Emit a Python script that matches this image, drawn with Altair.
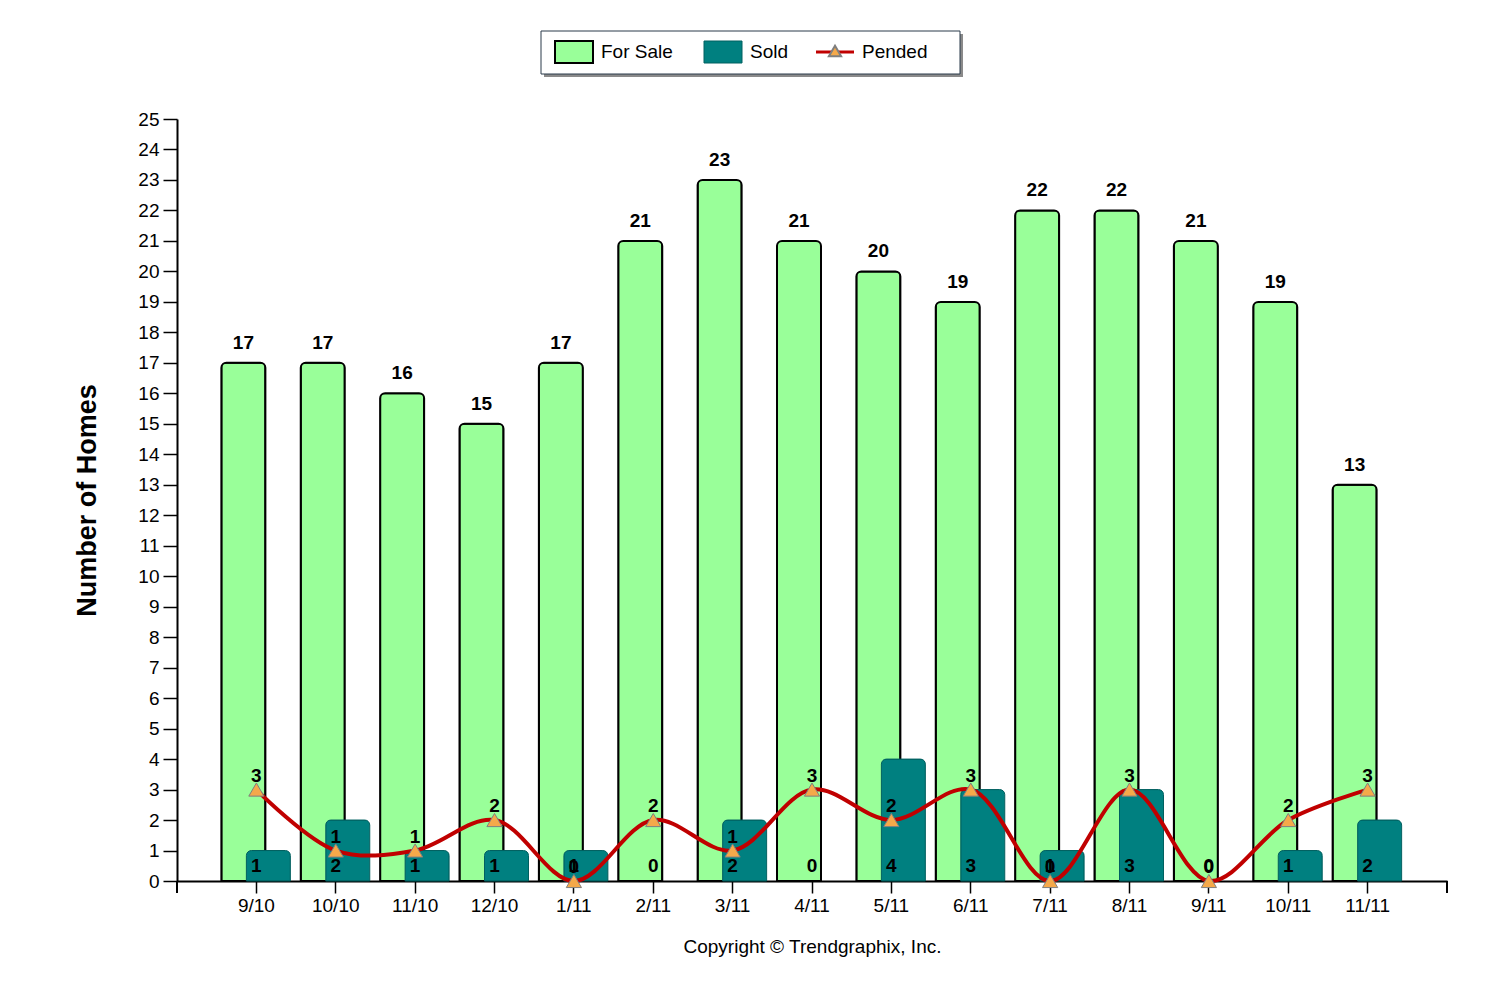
import altair as alt
import pandas as pd

# monthly counts
months = ["9/10", "10/10", "11/10", "12/10", "1/11", "2/11", "3/11", "4/11",
          "5/11", "6/11", "7/11", "8/11", "9/11", "10/11", "11/11"]
for_sale = [17, 17, 16, 15, 17, 21, 23, 21, 20, 19, 22, 22, 21, 19, 13]
sold = [1, 2, 1, 1, 1, 0, 2, 0, 4, 3, 1, 3, 0, 1, 2]
pended = [3, 1, 1, 2, 0, 2, 1, 3, 2, 3, 0, 3, 0, 2, 3]

legend_labels = ["For Sale", "Sold", "Pended"]

FONT = "Liberation Sans"
GREEN = "#99FF99"
TEAL = "#008080"
RED = "#C00000"
ORANGE = "#F5A94A"
W, H = 1270, 762

df = pd.DataFrame({"month": months, "for_sale": for_sale,
                   "sold": sold, "pended": pended, "zero": 0})

# ---------------------------------------------------------------------------
# shared encodings
# ---------------------------------------------------------------------------
x_enc = alt.X("month:N", sort=months, title="Copyright © Trendgraphix, Inc.",
              scale=alt.Scale(type="band", paddingInner=0, paddingOuter=0.5),
              axis=alt.Axis(labelAngle=0, labelFontSize=19, labelFont=FONT,
                            labelColor="black", labelPadding=3,
                            tickSize=12, tickColor="black", tickWidth=1.5,
                            domainColor="black", domainWidth=2,
                            titleFont=FONT, titleFontSize=19,
                            titleFontWeight="normal", titleColor="black",
                            titlePadding=22))

y_axis = alt.Axis(values=list(range(26)), labelOverlap=False,
                  labelFontSize=19, labelFont=FONT,
                  labelColor="black", labelPadding=4, tickSize=14,
                  tickColor="black", tickWidth=1.5, domainColor="black",
                  domainWidth=2, grid=False, title="Number of Homes",
                  titleFont=FONT, titleFontSize=27, titleFontWeight="bold",
                  titleColor="black", titleAngle=270, titleX=-90, titleY=H / 2,
                  titleAlign="center", titleBaseline="middle")
y_scale = alt.Scale(domain=[0, 25], nice=False)


def y_enc(field):
    return alt.Y(f"{field}:Q", scale=y_scale, axis=y_axis, title="Number of Homes")


base = alt.Chart(df)

# ---------------------------------------------------------------------------
# bars, line and labels
# ---------------------------------------------------------------------------
sale_bars = base.mark_bar(width=44, xOffset=-13, color=GREEN, stroke="black",
                          strokeWidth=2, cornerRadiusTopLeft=5,
                          cornerRadiusTopRight=5).encode(x=x_enc, y=y_enc("for_sale"))

sold_bars = base.transform_filter("datum.sold > 0").mark_bar(
    width=44, xOffset=12, color=TEAL, stroke="#006060", strokeWidth=1,
    cornerRadiusTopLeft=5, cornerRadiusTopRight=5).encode(x=x_enc, y=y_enc("sold"))

pended_line = base.mark_line(color=RED, strokeWidth=4,
                             interpolate="catmull-rom").encode(x=x_enc, y=y_enc("pended"))

pended_pts = base.mark_point(shape="triangle-up", filled=True, size=230,
                             fill=ORANGE, stroke="#7F7F7F", strokeWidth=1,
                             opacity=1).encode(x=x_enc, y=y_enc("pended"))

sale_text = base.mark_text(font=FONT, fontSize=19, fontWeight="bold",
                           color="black", xOffset=-13, dy=-14,
                           baseline="alphabetic").encode(
    x=x_enc, y=y_enc("for_sale"), text="for_sale:Q")

sold_text = base.mark_text(font=FONT, fontSize=19, fontWeight="bold",
                           color="black", dy=-9, baseline="alphabetic").encode(
    x=x_enc, y=y_enc("zero"), text="sold:Q")

pended_text = base.mark_text(font=FONT, fontSize=19, fontWeight="bold",
                             color="black", dy=-8, baseline="alphabetic").encode(
    x=x_enc, y=y_enc("pended"), text="pended:Q")

# small end ticks on the x axis line
end_ticks = base.mark_rule(color="black", strokeWidth=1.5).encode(
    x=alt.value(0), y=alt.value(H), y2=alt.value(H + 12))
end_ticks2 = base.mark_rule(color="black", strokeWidth=1.5).encode(
    x=alt.value(W), y=alt.value(H), y2=alt.value(H + 12))

# ---------------------------------------------------------------------------
# hand-made legend box above the plot
# ---------------------------------------------------------------------------
one = pd.DataFrame({"k": [0]})


def box(x1, x2, y1, y2, **kw):
    return alt.Chart(one).mark_rect(**kw).encode(
        x=alt.value(x1), x2=alt.value(x2), y=alt.value(y1), y2=alt.value(y2))


def label(xp, txt):
    return alt.Chart(one).mark_text(font=FONT, fontSize=19, color="black",
                                    align="left", baseline="middle").encode(
        x=alt.value(xp), y=alt.value(-67), text=alt.value(txt))


legend = [
    box(367, 786, -85, -42, color="#8A8A8A"),
    box(364, 783, -88, -45, color="white", stroke="#2B3A4A", strokeWidth=1),
    box(378, 416, -78, -56, color=GREEN, stroke="black", strokeWidth=2),
    label(424, legend_labels[0]),
    box(527, 565, -78, -56, color=TEAL, stroke="#006060", strokeWidth=1),
    label(573, legend_labels[1]),
    alt.Chart(one).mark_rule(color=RED, strokeWidth=3).encode(
        x=alt.value(639), x2=alt.value(677), y=alt.value(-67)),
    alt.Chart(one).mark_point(shape="triangle-up", filled=True, size=150,
                              fill=ORANGE, stroke="#7F7F7F", opacity=1).encode(
        x=alt.value(658), y=alt.value(-68)),
    label(685, legend_labels[2]),
]

chart = alt.layer(
    sale_bars, sold_bars, pended_line, pended_pts,
    sale_text, sold_text, pended_text, end_ticks, end_ticks2, *legend
).properties(
    width=W,
    height=H,
    autosize=alt.AutoSizeParams(type="none"),
    padding={"left": 169, "top": 111, "right": 40, "bottom": 100},
    background="white",
).configure_view(
    stroke=None
)

chart.save("out.html", embed_options={"renderer": "svg", "actions": False})
